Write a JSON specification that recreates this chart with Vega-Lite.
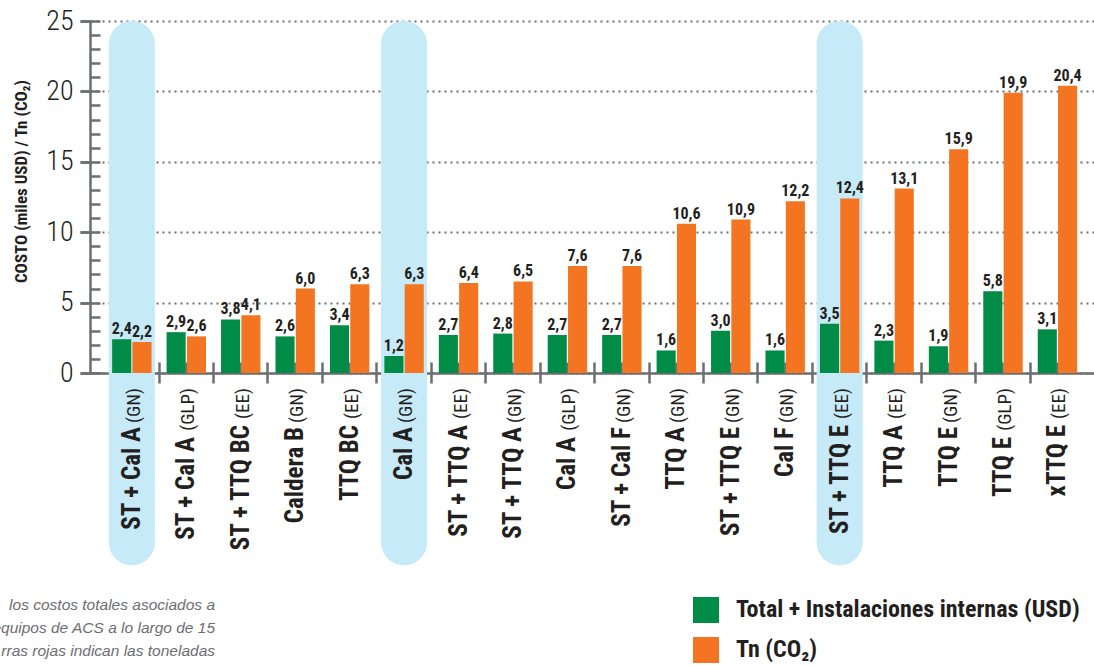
{
  "$schema": "https://vega.github.io/schema/vega-lite/v6.json",
  "autosize": {"type": "none"},
  "width": 1004,
  "height": 352,
  "padding": {"left": 90, "top": 21, "right": 0, "bottom": 292},
  "background": "white",
  "config": {
    "view": {"stroke": null},
    "locale": {"number": {"decimal": ",", "thousands": ".", "grouping": [3], "currency": ["$", ""]}}
  },
  "datasets": {
    "cats": [
      {"cat": "ST + Cal A (GN)", "name": "ST + Cal A", "tipo": "(GN)", "total": 2.4, "tn": 2.2, "hl": true},
      {"cat": "ST + Cal A (GLP)", "name": "ST + Cal A", "tipo": "(GLP)", "total": 2.9, "tn": 2.6, "hl": false},
      {"cat": "ST + TTQ BC (EE)", "name": "ST + TTQ BC", "tipo": "(EE)", "total": 3.8, "tn": 4.1, "hl": false},
      {"cat": "Caldera B (GN)", "name": "Caldera B", "tipo": "(GN)", "total": 2.6, "tn": 6.0, "hl": false},
      {"cat": "TTQ BC (EE)", "name": "TTQ BC", "tipo": "(EE)", "total": 3.4, "tn": 6.3, "hl": false},
      {"cat": "Cal A (GN)", "name": "Cal A", "tipo": "(GN)", "total": 1.2, "tn": 6.3, "hl": true},
      {"cat": "ST + TTQ A (EE)", "name": "ST + TTQ A", "tipo": "(EE)", "total": 2.7, "tn": 6.4, "hl": false},
      {"cat": "ST + TTQ A (GN)", "name": "ST + TTQ A", "tipo": "(GN)", "total": 2.8, "tn": 6.5, "hl": false},
      {"cat": "Cal A (GLP)", "name": "Cal A", "tipo": "(GLP)", "total": 2.7, "tn": 7.6, "hl": false},
      {"cat": "ST + Cal F (GN)", "name": "ST + Cal F", "tipo": "(GN)", "total": 2.7, "tn": 7.6, "hl": false},
      {"cat": "TTQ A (GN)", "name": "TTQ A", "tipo": "(GN)", "total": 1.6, "tn": 10.6, "hl": false},
      {"cat": "ST + TTQ E (GN)", "name": "ST + TTQ E", "tipo": "(GN)", "total": 3.0, "tn": 10.9, "hl": false},
      {"cat": "Cal F (GN)", "name": "Cal F", "tipo": "(GN)", "total": 1.6, "tn": 12.2, "hl": false},
      {"cat": "ST + TTQ E (EE)", "name": "ST + TTQ E", "tipo": "(EE)", "total": 3.5, "tn": 12.4, "hl": true},
      {"cat": "TTQ A (EE)", "name": "TTQ A", "tipo": "(EE)", "total": 2.3, "tn": 13.1, "hl": false},
      {"cat": "TTQ E (GN)", "name": "TTQ E", "tipo": "(GN)", "total": 1.9, "tn": 15.9, "hl": false},
      {"cat": "TTQ E (GLP)", "name": "TTQ E", "tipo": "(GLP)", "total": 5.8, "tn": 19.9, "hl": false},
      {"cat": "xTTQ E (EE)", "name": "xTTQ E", "tipo": "(EE)", "total": 3.1, "tn": 20.4, "hl": false}
    ]
  },
  "data": {"name": "cats"},
  "title": {
    "text": ["los costos totales asociados a", "equipos de ACS a lo largo de 15", "rras rojas indican las toneladas"],
    "orient": "bottom",
    "anchor": "start",
    "frame": "group",
    "align": "right",
    "dx": 125,
    "offset": -65,
    "font": "Liberation Sans",
    "fontSize": 15.5,
    "fontStyle": "italic",
    "fontWeight": "normal",
    "color": "#6d6e71",
    "lineHeight": 23,
    "baseline": "top"
  },
  "resolve": {"axis": {"x": "independent", "y": "independent"}},
  "layer": [
    {
      "transform": [{"filter": "datum.hl"}],
      "mark": {"type": "bar", "color": "#c6eaf8", "cornerRadius": 23, "width": {"band": 0.845}},
      "encoding": {
        "x": {
          "field": "cat", "type": "nominal",
          "scale": {"domain": ["ST + Cal A (GN)", "ST + Cal A (GLP)", "ST + TTQ BC (EE)", "Caldera B (GN)", "TTQ BC (EE)", "Cal A (GN)", "ST + TTQ A (EE)", "ST + TTQ A (GN)", "Cal A (GLP)", "ST + Cal F (GN)", "TTQ A (GN)", "ST + TTQ E (GN)", "Cal F (GN)", "ST + TTQ E (EE)", "TTQ A (EE)", "TTQ E (GN)", "TTQ E (GLP)", "xTTQ E (EE)"], "paddingInner": 0, "paddingOuter": 0.22, "align": 0.61},
          "axis": {
            "orient": "bottom", "offset": -11, "title": null, "labels": false, "domain": false, "grid": false,
            "ticks": true, "tickSize": 21, "tickWidth": 2.5, "tickColor": "#6d6e71", "bandPosition": 0,
            "values": ["ST + Cal A (GLP)", "ST + TTQ BC (EE)", "Caldera B (GN)", "TTQ BC (EE)", "Cal A (GN)", "ST + TTQ A (EE)", "ST + TTQ A (GN)", "Cal A (GLP)", "ST + Cal F (GN)", "TTQ A (GN)", "ST + TTQ E (GN)", "Cal F (GN)", "ST + TTQ E (EE)", "TTQ A (EE)", "TTQ E (GN)", "TTQ E (GLP)", "xTTQ E (EE)"]
          }
        },
        "y": {
          "datum": 25, "type": "quantitative",
          "scale": {"domain": [0, 25], "nice": false, "zero": false},
          "axis": {
            "orient": "left", "offset": -10, "title": null, "labels": false, "domain": false, "grid": false,
            "values": [0, 1, 2, 3, 4, 5, 6, 7, 8, 9, 10, 11, 12, 13, 14, 15, 16, 17, 18, 19, 20, 21, 22, 23, 24, 25],
            "ticks": true, "tickWidth": 2.5, "tickColor": "#6d6e71",
            "tickSize": {"condition": {"test": "datum.value % 5 === 0", "value": 20}, "value": 10}
          }
        },
        "y2": {"datum": -13.66}
      }
    },
    {
      "transform": [{"fold": ["total", "tn"], "as": ["serie", "value"]}],
      "mark": {"type": "bar"},
      "encoding": {
        "x": {
          "field": "cat", "type": "nominal", "sort": null,
          "axis": {"orient": "bottom", "title": null, "labels": false, "ticks": false, "grid": false, "domainColor": "#6d6e71", "domainWidth": 2.5}
        },
        "xOffset": {"field": "serie", "type": "nominal", "scale": {"domain": ["total", "tn"], "paddingInner": 0.06, "paddingOuter": 0.37}},
        "y": {
          "field": "value", "type": "quantitative",
          "axis": {
            "orient": "left", "values": [0, 5, 10, 15, 20, 25],
            "domainColor": "#6d6e71", "domainWidth": 2.5,
            "ticks": true, "tickSize": 10, "tickWidth": 2.5, "tickColor": "#6d6e71",
            "labelFont": "'Roboto Condensed', 'DejaVu Sans Condensed', sans-serif", "labelFontSize": 28, "labelFontWeight": 300, "labelColor": "#231f20", "labelPadding": 7,
            "grid": true, "gridColor": "#6d6e71", "gridDash": [2, 4], "gridWidth": 2,
            "title": "COSTO (miles USD) / Tn (CO₂)",
            "titleFont": "'Roboto Condensed', 'DejaVu Sans Condensed', sans-serif", "titleFontSize": 17, "titleFontWeight": "bold", "titleColor": "#231f20",
            "titleAngle": 270, "titleAlign": "center", "titleBaseline": "bottom", "titleX": -60, "titleY": 160
          }
        },
        "color": {
          "field": "serie", "type": "nominal",
          "scale": {"domain": ["total", "tn"], "range": ["#008c47", "#f47521"]},
          "legend": {
            "orient": "none", "legendX": 603, "legendY": 576, "title": null, "direction": "vertical",
            "symbolType": "square", "symbolSize": 676, "symbolStrokeWidth": 0,
            "labelFont": "'Roboto Condensed', 'DejaVu Sans Condensed', sans-serif", "labelFontSize": 24, "labelFontWeight": "bold", "labelColor": "#231f20",
            "labelOffset": 17, "rowPadding": 14, "labelLimit": 500,
            "labelExpr": "datum.value == 'total' ? 'Total + Instalaciones internas (USD)' : 'Tn (CO₂)'",
            "encode": {"symbols": {"update": {"fill": [{"test": "datum.value == 'total'", "value": "#12ad4b"}, {"value": "#f47521"}], "opacity": {"value": 1}}}}
          }
        }
      }
    },
    {
      "transform": [{"fold": ["total", "tn"], "as": ["serie", "value"]}],
      "mark": {"type": "text", "baseline": "alphabetic", "dy": -5, "font": "'Roboto Condensed', 'DejaVu Sans Condensed', sans-serif", "fontSize": 16, "fontWeight": "bold", "color": "#231f20"},
      "encoding": {
        "x": {
          "field": "cat", "type": "nominal",
          "axis": {"orient": "bottom", "offset": -11, "title": null, "labels": false, "domain": false, "grid": false, "ticks": true, "tickSize": 11, "tickWidth": 2.5, "tickColor": "#6d6e71", "bandPosition": 0.5}
        },
        "xOffset": {"field": "serie", "type": "nominal"},
        "y": {"field": "value", "type": "quantitative", "axis": null},
        "text": {"field": "value", "type": "quantitative", "format": ".1f"}
      }
    },
    {
      "mark": {"type": "text", "angle": 270, "align": "right", "baseline": "alphabetic", "dx": -15, "dy": 8, "font": "'Roboto Condensed', 'DejaVu Sans Condensed', sans-serif", "fontSize": 19, "fontWeight": "normal", "color": "#231f20"},
      "encoding": {
        "x": {"field": "cat", "type": "nominal", "axis": null},
        "y": {"datum": 0, "type": "quantitative", "axis": null},
        "text": {"field": "tipo"}
      }
    },
    {
      "transform": [{"filter": "datum.tipo == '(GN)'"}],
      "mark": {"type": "text", "angle": 270, "align": "right", "baseline": "alphabetic", "dx": -54, "dy": 8, "font": "'Roboto Condensed', 'DejaVu Sans Condensed', sans-serif", "fontSize": 25, "fontWeight": "bold", "color": "#231f20"},
      "encoding": {
        "x": {"field": "cat", "type": "nominal", "axis": null},
        "y": {"datum": 0, "type": "quantitative", "axis": null},
        "text": {"field": "name"}
      }
    },
    {
      "transform": [{"filter": "datum.tipo == '(GLP)'"}],
      "mark": {"type": "text", "angle": 270, "align": "right", "baseline": "alphabetic", "dx": -64, "dy": 8, "font": "'Roboto Condensed', 'DejaVu Sans Condensed', sans-serif", "fontSize": 25, "fontWeight": "bold", "color": "#231f20"},
      "encoding": {
        "x": {"field": "cat", "type": "nominal", "axis": null},
        "y": {"datum": 0, "type": "quantitative", "axis": null},
        "text": {"field": "name"}
      }
    },
    {
      "transform": [{"filter": "datum.tipo == '(EE)'"}],
      "mark": {"type": "text", "angle": 270, "align": "right", "baseline": "alphabetic", "dx": -52, "dy": 8, "font": "'Roboto Condensed', 'DejaVu Sans Condensed', sans-serif", "fontSize": 25, "fontWeight": "bold", "color": "#231f20"},
      "encoding": {
        "x": {"field": "cat", "type": "nominal", "axis": null},
        "y": {"datum": 0, "type": "quantitative", "axis": null},
        "text": {"field": "name"}
      }
    }
  ]
}
